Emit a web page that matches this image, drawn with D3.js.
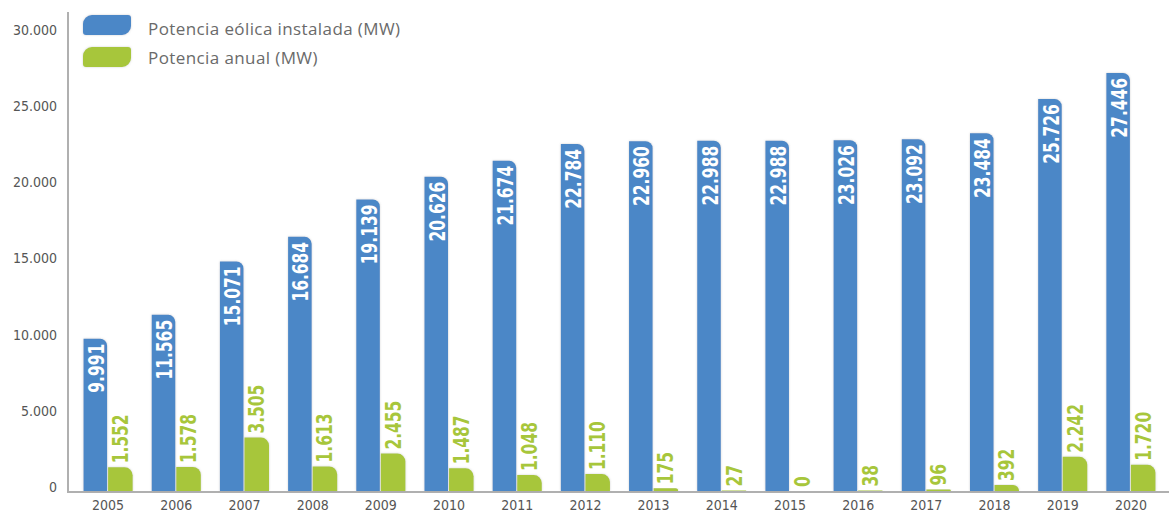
<!DOCTYPE html>
<html>
<head>
<meta charset="utf-8">
<script src="https://cdn.jsdelivr.net/npm/d3@7"></script>
<style>
  body { margin: 0; background: #fff; }
  svg { display: block; }
</style>
</head>
<body>
<div id="viz"></div>
<script>
const years = ["2005","2006","2007","2008","2009","2010","2011","2012","2013","2014","2015","2016","2017","2018","2019","2020"];
const instalada = [9991, 11565, 15071, 16684, 19139, 20626, 21674, 22784, 22960, 22988, 22988, 23026, 23092, 23484, 25726, 27446];
const anual = [1552, 1578, 3505, 1613, 2455, 1487, 1048, 1110, 175, 27, 0, 38, 96, 392, 2242, 1720];
const yTicks = [0, 5000, 10000, 15000, 20000, 25000, 30000];
const seriesNames = ["Potencia eólica instalada (MW)", "Potencia anual (MW)"];

const width = 1169, height = 512;
const blue = "#4b87c7", green = "#a7c63b";
const condensed = "'DejaVu Sans Condensed', 'Liberation Sans Narrow', sans-serif";

const fmt = d3.formatLocale({decimal: ",", thousands: ".", grouping: [3], currency: ["", "€"]}).format(",d");

const svg = d3.select("#viz").append("svg")
    .attr("width", width).attr("height", height);

const defs = svg.append("defs");
const glow = defs.append("filter").attr("id", "glow")
    .attr("x", "-30%").attr("y", "-10%").attr("width", "160%").attr("height", "120%");
glow.append("feDropShadow").attr("dx", 0).attr("dy", 0).attr("stdDeviation", 1.2)
    .attr("flood-color", "#999").attr("flood-opacity", 0.45);

const y = d3.scaleLinear().domain([0, 30000]).range([491, 34]);
const x = d3.scaleBand().domain(years).range([74, 1165]).paddingInner(0.28).paddingOuter(0.14);
const x1 = d3.scaleBand().domain(["inst", "anual"]).range([0, x.bandwidth()]);

// bar with rounded top-right corner
function barPath(x0, y0, w, h, r) {
  if (h <= 0) return "";
  r = Math.min(r, h, w);
  return `M${x0},${y0 + h}V${y0}H${x0 + w - r}A${r},${r} 0 0 1 ${x0 + w},${y0 + r}V${y0 + h}Z`;
}

// axes
svg.append("line").attr("x1", 68).attr("x2", 68).attr("y1", 12).attr("y2", 492)
    .attr("stroke", "#b0b0b0").attr("stroke-width", 2);
svg.append("line").attr("x1", 67).attr("x2", width).attr("y1", 492).attr("y2", 492)
    .attr("stroke", "#b0b0b0").attr("stroke-width", 2);

const yAxis = svg.append("g").attr("transform", "translate(57,-4)")
    .call(d3.axisLeft(y).tickValues(yTicks).tickSize(0).tickPadding(0).tickFormat(fmt));
yAxis.select(".domain").remove();
yAxis.selectAll("text").attr("font-family", condensed).attr("font-size", 14).attr("fill", "#555");

const xAxis = svg.append("g").attr("transform", "translate(0,497)")
    .call(d3.axisBottom(x).tickSize(0).tickPadding(0));
xAxis.select(".domain").remove();
xAxis.selectAll("text").attr("font-family", condensed).attr("font-size", 14).attr("fill", "#555")
    .attr("dy", "0.9em");

// bars
const g = svg.append("g");
const groups = g.selectAll("g.year").data(years).join("g")
    .attr("transform", d => `translate(${x(d)},0)`);

groups.append("path")
    .attr("d", (d, i) => barPath(x1("inst"), y(instalada[i]), x1.bandwidth() - 1, y(0) - y(instalada[i]), 7))
    .attr("fill", blue).attr("filter", "url(#glow)");

groups.append("path")
    .attr("d", (d, i) => barPath(x1("anual"), y(anual[i]), x1.bandwidth(), y(0) - y(anual[i]), 8))
    .attr("fill", green).attr("filter", "url(#glow)");

// value labels (rotated, squeezed along the text to look condensed)
groups.append("text")
    .attr("transform", (d, i) => `translate(${x1("inst") + x1.bandwidth() / 2 + 0.5},${y(instalada[i]) + 5}) rotate(-90) scale(0.82,1)`)
    .attr("text-anchor", "end").attr("dy", "0.36em")
    .attr("font-family", condensed).attr("font-weight", "bold").attr("font-size", 21)
    .attr("fill", "#fff")
    .text((d, i) => fmt(instalada[i]));

groups.append("text")
    .attr("transform", (d, i) => `translate(${x1("anual") + x1.bandwidth() / 2},${y(anual[i]) - 4}) rotate(-90) scale(0.82,1)`)
    .attr("text-anchor", "start").attr("dy", "0.36em")
    .attr("font-family", condensed).attr("font-weight", "bold").attr("font-size", 21)
    .attr("fill", green)
    .attr("stroke", "#fff").attr("stroke-width", 2).attr("paint-order", "stroke")
    .text((d, i) => fmt(anual[i]));

// legend
function swatch(x0, y0, w, h) {
  const a = 9, b = 3;
  return `M${x0},${y0 + h - b}V${y0 + a}A${a},${a} 0 0 1 ${x0 + a},${y0}H${x0 + w - b}A${b},${b} 0 0 1 ${x0 + w},${y0 + b}V${y0 + h - a}A${a},${a} 0 0 1 ${x0 + w - a},${y0 + h}H${x0 + b}A${b},${b} 0 0 1 ${x0},${y0 + h - b}Z`;
}
const legend = svg.append("g").selectAll("g").data(seriesNames).join("g")
    .attr("transform", (d, i) => `translate(83,${15 + i * 32})`);
legend.append("path").attr("d", swatch(0, 0, 48, 20))
    .attr("fill", (d, i) => i === 0 ? blue : green).attr("filter", "url(#glow)");
legend.append("text").attr("x", 65).attr("y", (d, i) => 14 - i * 3).attr("dy", "0.35em")
    .attr("font-family", "'Open Sans', sans-serif").attr("font-size", 17)
    .attr("letter-spacing", 0.4).attr("fill", "#6a6a6a")
    .text(d => d);
</script>
</body>
</html>
